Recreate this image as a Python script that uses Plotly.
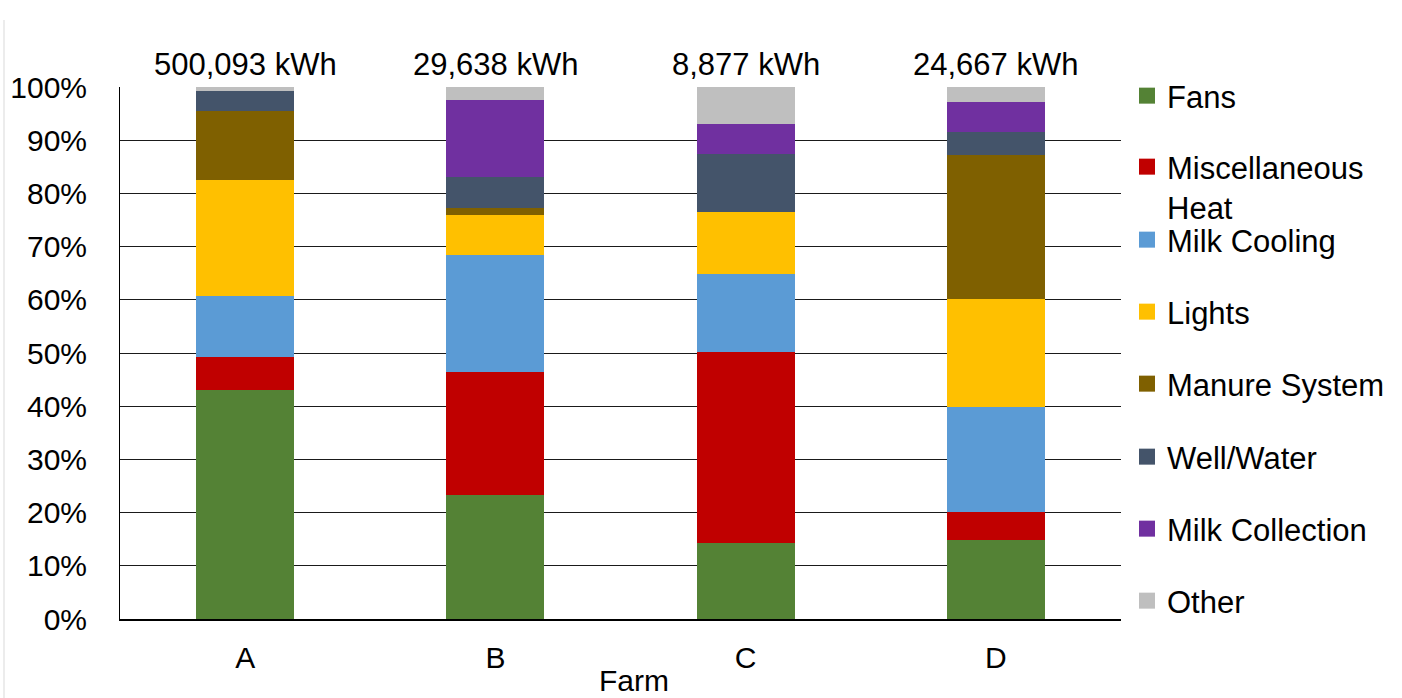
import plotly.graph_objects as go

# Farms and annual electricity totals
farms = ["A", "B", "C", "D"]
totals_kwh = ["500,093 kWh", "29,638 kWh", "8,877 kWh", "24,667 kWh"]

# Share of annual use by end use (%), per farm A-D
fans = [43.0, 23.4, 14.3, 14.8]
misc_heat = [6.2, 23.0, 35.9, 5.4]
milk_cooling = [11.5, 22.0, 14.7, 19.6]
lights = [21.9, 7.5, 11.6, 20.3]
manure_system = [12.8, 1.4, 0.0, 27.1]
well_water = [3.9, 5.8, 10.9, 4.3]
milk_collection = [0.0, 14.5, 5.6, 5.6]
other = [0.7, 2.4, 7.0, 2.9]

series_names = ["Fans", "Miscellaneous<br>Heat", "Milk Cooling", "Lights",
                "Manure System", "Well/Water", "Milk Collection", "Other"]
series_values = [fans, misc_heat, milk_cooling, lights,
                 manure_system, well_water, milk_collection, other]
series_colors = ["#548235", "#C00000", "#5B9BD5", "#FFC000",
                 "#7F6000", "#44546A", "#7030A0", "#BFBFBF"]

y_ticks = list(range(0, 101, 10))
y_tick_labels = [f"{v}%" for v in y_ticks]

FONT = "Liberation Sans, Arial, sans-serif"

W, H = 1402, 698
L, R, T, B = 120, 281, 87, 79
plot_w = W - L - R
plot_h = H - T - B

fig = go.Figure()

for name, vals, col in zip(series_names, series_values, series_colors):
    fig.add_trace(go.Bar(x=farms, y=vals, name=name, marker_color=col,
                         marker_line_width=0, showlegend=False))

# Legend entries, one legend box per series so the spacing is even
legend_centers_px = [96, 187, 240, 312, 384, 457, 529, 601]
legend_left_px = 1127
layout_legends = {}
for i, (name, col) in enumerate(zip(series_names, series_colors)):
    key = "legend" if i == 0 else f"legend{i + 1}"
    fig.add_trace(go.Scatter(x=[None], y=[None], mode="markers", name=name,
                             marker=dict(symbol="square", size=17, color=col),
                             legend=key, showlegend=True))
    layout_legends[key] = dict(
        x=(legend_left_px - L) / plot_w,
        y=(H - B - legend_centers_px[i]) / plot_h,
        xanchor="left", yanchor="middle",
        bgcolor="rgba(0,0,0,0)",
        font=dict(family=FONT, size=31, color="#000000"),
        itemsizing="trace", valign="top",
    )

# Annual totals above each bar
for farm, label in zip(farms, totals_kwh):
    fig.add_annotation(x=farm, y=100, text=label, showarrow=False,
                       xref="x", yref="y", yanchor="bottom", yshift=3,
                       font=dict(family=FONT, size=31, color="#000000"))

# Category axis title
fig.add_annotation(text="Farm", showarrow=False,
                   xref="paper", yref="paper",
                   x=(634 - L) / plot_w, y=(H - B - 680) / plot_h,
                   xanchor="center", yanchor="middle",
                   font=dict(family=FONT, size=30, color="#000000"))

fig.update_layout(
    width=W, height=H,
    margin=dict(l=L, r=R, t=T, b=B, autoexpand=False),
    barmode="stack",
    bargap=0.608,
    plot_bgcolor="#FFFFFF",
    paper_bgcolor="#FFFFFF",
    font=dict(family=FONT, size=29, color="#000000"),
    **layout_legends,
)

fig.update_yaxes(
    range=[0, 100],
    tickmode="array", tickvals=y_ticks, ticktext=y_tick_labels,
    showgrid=True, gridcolor="#1a1a1a", gridwidth=1,
    showline=True, linecolor="#000000", linewidth=1,
    ticks="", ticklabelstandoff=26,
    zeroline=False,
    tickfont=dict(family=FONT, size=30, color="#000000"),
)
fig.update_xaxes(
    showline=True, linecolor="#000000", linewidth=1.5,
    ticks="", ticklabelstandoff=11,
    tickfont=dict(family=FONT, size=30, color="#000000"),
)

# Thin light frame line at the far left of the canvas
fig.add_shape(type="line", xref="paper", yref="paper",
              x0=(4 - L) / plot_w, x1=(4 - L) / plot_w,
              y0=(H - B - 20) / plot_h, y1=(H - B - H) / plot_h,
              line=dict(color="#D9D9D9", width=1))

fig.write_html("out.html")
